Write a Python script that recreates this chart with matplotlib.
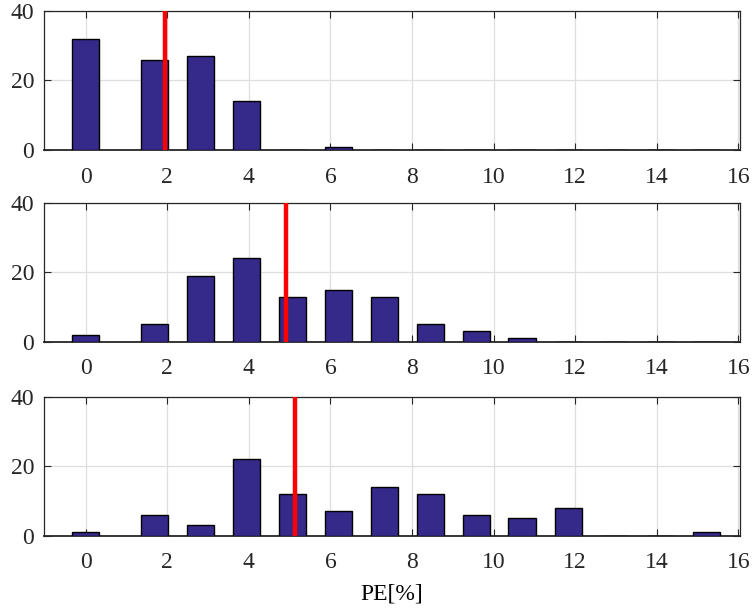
import matplotlib
matplotlib.use("Agg")
from matplotlib import pyplot as plt

plt.rcParams['font.family'] = ['Liberation Serif', 'DejaVu Serif']
plt.rcParams['font.size'] = 17

# bin centres of the histograms
bin_centers = [0, 1.69, 2.82, 3.95, 5.07, 6.20, 7.33, 8.45, 9.58, 10.70, 11.83, 12.96, 14.09, 15.22]

counts_1 = [32, 26, 27, 14, 0, 1, 0, 0, 0, 0, 0, 0, 0, 0]
counts_2 = [2, 5, 19, 24, 13, 15, 13, 5, 3, 1, 0, 0, 0, 0]
counts_3 = [1, 6, 3, 22, 12, 7, 14, 12, 6, 5, 8, 0, 0, 1]

# mean PE for each panel (red line)
mean_pe = [1.95, 4.92, 5.14]

x_ticks = [0, 2, 4, 6, 8, 10, 12, 14, 16]
y_ticks = [0, 20, 40]

fig = plt.figure(figsize=(7.54, 6.13), dpi=100)
bottoms = [0.7553, 0.4426, 0.1261]
axes_color = '#262626'

for counts, m, b in zip([counts_1, counts_2, counts_3], mean_pe, bottoms):
    ax = fig.add_axes([0.0584, b, 0.923, 0.2268])
    ax.bar(bin_centers, counts, width=0.67, color='#35298a',
           edgecolor='black', linewidth=1.0, zorder=3)
    ax.axvline(m, color='#ff0000', linewidth=3.2, zorder=4)
    ax.set_xlim(-1.02, 16.04)
    ax.set_ylim(0, 40)
    ax.set_xticks(x_ticks)
    ax.set_yticks(y_ticks)
    ax.grid(True, color='#dedede', linewidth=0.9, zorder=0)
    ax.tick_params(direction='in', top=True, right=True, length=5,
                   width=0.8, colors=axes_color, labelcolor='#262626')
    ax.tick_params(axis='x', pad=12)
    ax.tick_params(axis='y', pad=7)
    for s in ax.spines.values():
        s.set_color(axes_color)
        s.set_linewidth(0.9)
    ax.spines['bottom'].set_linewidth(1.3)

    if b == bottoms[-1]:
        ax.set_xlabel('PE[%]', labelpad=7)

plt.savefig('out.png', dpi=100)
